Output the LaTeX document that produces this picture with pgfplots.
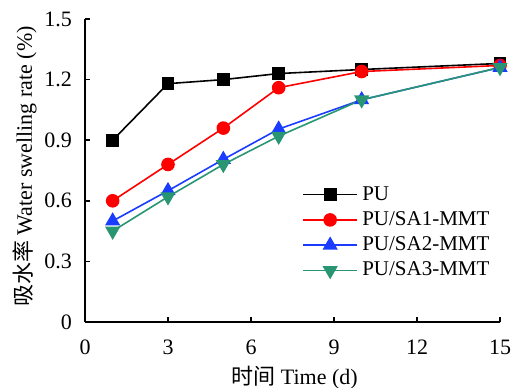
\documentclass[border=0pt]{standalone}
\usepackage{fontspec}
\setmainfont{Liberation Serif}
\newfontfamily\cjk{Noto Sans CJK SC}
\usepackage{pgfplots}
\pgfplotsset{compat=1.18}
\definecolor{cPU}{RGB}{0,0,0}
\definecolor{cSA1}{RGB}{255,0,0}
\definecolor{cSA2}{RGB}{25,60,255}
\definecolor{cSA3}{RGB}{40,150,115}
\begin{document}
\begin{tikzpicture}
\begin{axis}[
  name=ax,
  scale only axis,
  width=207.5pt, height=151.5pt,
  xmin=0, xmax=15, ymin=0, ymax=1.5,
  axis x line=bottom, axis y line=left,
  axis line style={-, line width=0.8pt},
  xtick={0,3,6,9,12,15},
  ytick={0,0.3,0.6,0.9,1.2,1.5},
  yticklabels={0,0.3,0.6,0.9,1.2,1.5},
  tick align=inside,
  major tick length=2.5pt,
  tick style={line width=0.8pt, black},
  /pgf/number format/assume math mode=true,
  tick label style={font=\fontsize{11}{13}\selectfont},
  xticklabel style={yshift=-5.5pt},
  yticklabel style={xshift=-3pt},
  label style={font=\fontsize{11}{13}\selectfont},
  xlabel={{\cjk 时间} Time (d)},
  ylabel={{\cjk 吸水率} Water swelling rate (\%)},
  xlabel style={at={(rel axis cs:0.5,0)}, anchor=base, yshift=-31pt, xshift=1pt},
  ylabel style={at={(rel axis cs:0,0.5)}, anchor=base, yshift=26.5pt, xshift=2pt},
  legend style={draw=none, fill=none, at={(0.99,0.469)}, anchor=north east,
    font=\fontsize{10.5}{12.5}\selectfont, row sep=0.2pt, inner sep=1pt},
  legend cell align=left,
  legend image code/.code={
    \draw[mark repeat=2,mark phase=2,#1] plot coordinates {(0cm,0cm) (0.48cm,0cm) (0.96cm,0cm)};},
  every axis plot/.append style={line width=0.8pt},
]
\addplot[color=cPU, mark=square*, mark size=2.8pt, mark options={solid}] coordinates {(1,0.90) (3,1.18) (5,1.20) (7,1.23) (10,1.25) (15,1.28)};
\addlegendentry{PU}
\addplot[color=cSA1, mark=*, mark size=3.0pt] coordinates {(1,0.60) (3,0.78) (5,0.96) (7,1.16) (10,1.24) (15,1.27)};
\addlegendentry{PU/SA1-MMT}
\addplot[color=cSA2, mark=triangle*, mark size=3.6pt] coordinates {(1,0.50) (3,0.65) (5,0.805) (7,0.955) (10,1.10) (15,1.26)};
\addlegendentry{PU/SA2-MMT}
\addplot[color=cSA3, mark=triangle*, mark size=3.6pt, mark options={rotate=180}] coordinates {(1,0.45) (3,0.62) (5,0.78) (7,0.92) (10,1.10) (15,1.26)};
\addlegendentry{PU/SA3-MMT}
\end{axis}
\pgfresetboundingbox
\path ([xshift=-42.5pt,yshift=-32.5pt]ax.south west) rectangle ([xshift=6pt,yshift=9.5pt]ax.north east);
\end{tikzpicture}
\end{document}
